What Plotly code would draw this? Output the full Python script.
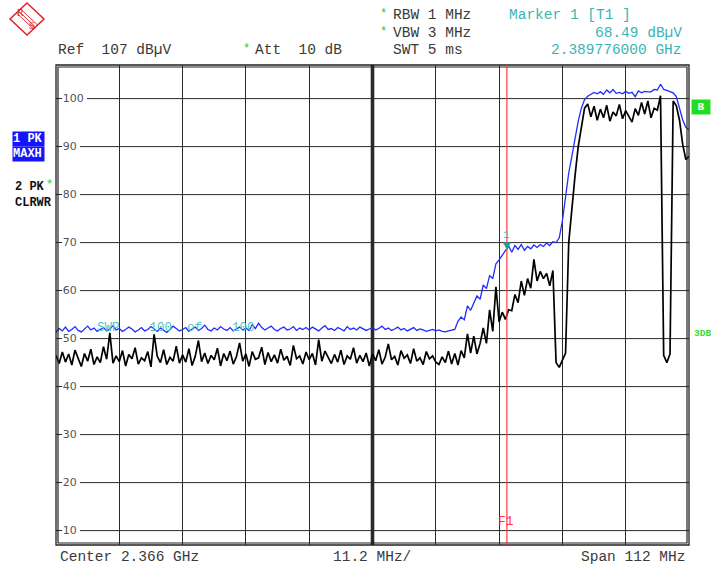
import plotly.graph_objects as go

# sweep settings
center_mhz = 2366.0
span_mhz = 112.0
n_points = 201
freqs = [center_mhz - span_mhz / 2 + span_mhz * i / (n_points - 1) for i in range(n_points)]
freq_divs = [center_mhz - span_mhz / 2 + span_mhz * k / 10 for k in range(11)]

ref_level = 107
level_ticks = [10, 20, 30, 40, 50, 60, 70, 80, 90, 100]

marker_freq = 2389.776
marker_level = 68.49

# trace 1: PK / MAXH (blue)
maxh_dbuv = [
    51.3, 52.1, 51.6, 52.4, 51.5, 51.9, 52.5, 51.7, 51.4, 52.0,
    52.6, 51.8, 52.2, 51.5, 51.9, 52.3, 51.6, 52.0, 52.7, 51.8,
    52.1, 51.5, 51.9, 52.4, 52.0, 51.4, 51.8, 52.3, 51.6, 51.9,
    52.5, 52.0, 51.5, 52.2, 51.7, 51.3, 51.9, 52.6, 52.1, 51.6,
    51.9, 52.3, 51.5, 52.0, 52.4, 51.7, 52.1, 52.8, 51.9, 51.6,
    52.2, 51.8, 52.5, 52.0, 51.7, 52.3, 51.6, 52.0, 52.4, 51.8,
    52.2, 51.7, 52.9, 52.1, 53.2, 52.3, 51.8, 52.2, 52.6, 51.9,
    51.6, 52.1, 52.4, 51.8, 52.0, 52.5, 51.7, 52.2, 51.9, 52.3,
    51.8, 52.4, 52.0, 51.6, 52.2, 52.7, 51.9, 52.1, 51.7, 52.3,
    52.0, 51.6, 52.5, 51.9, 52.2, 51.8, 52.4, 52.1, 51.7, 52.0,
    52.3, 51.8, 52.1, 52.6, 51.9, 52.2, 51.7, 52.0, 52.4, 51.8,
    52.1, 51.6, 51.9, 52.3, 51.7, 52.0, 51.8, 51.5, 51.7, 51.9,
    51.6, 51.8, 51.5, 51.4, 51.6, 51.8, 51.9, 53.6, 54.5, 53.9,
    56.8, 55.9, 57.5, 58.9, 58.2, 61.2, 60.4, 63.1, 62.5, 65.6,
    66.4, 67.4, 68.5, 69.3, 68.0, 69.4, 68.6, 69.6, 68.4, 69.2,
    68.7, 69.5, 69.0, 69.6, 69.2, 69.9, 69.4, 70.2, 70.0, 71.0,
    74.5, 79.5, 84.5, 88.0, 91.8, 95.3, 98.0, 99.8, 100.5, 100.9,
    101.3, 101.0, 101.4, 100.9, 101.8, 101.2, 101.9, 101.1, 101.3, 101.0,
    101.5, 101.1, 101.3, 100.4, 101.6, 101.2, 101.5, 101.4, 101.4, 101.9,
    101.8, 103.0, 101.9, 101.7, 101.5, 101.2, 100.4, 98.2, 95.6, 94.0,
    93.5,
]

# trace 2: PK / CLRWR (black)
clrwr_dbuv = [
    46.5, 44.8, 47.2, 45.1, 46.8, 44.5, 47.6, 45.9, 44.2, 46.9,
    45.3, 47.8, 44.6, 46.2, 45.0, 48.3, 45.7, 51.2, 44.9, 46.4,
    45.2, 47.5, 44.3, 46.7, 45.8, 48.1, 44.7, 46.0, 45.4, 47.3,
    44.1, 50.9, 46.3, 45.0, 47.7, 44.6, 46.1, 45.3, 48.4, 44.9,
    46.6, 45.1, 47.9, 44.4, 46.3, 49.6, 45.2, 47.0, 44.8, 46.5,
    45.6, 48.0, 44.3, 46.9, 45.4, 47.4, 44.7, 46.2, 49.1, 45.3,
    46.8, 44.2, 47.3, 45.7, 46.0, 48.2, 44.6, 47.1, 45.2, 46.6,
    44.9, 47.8, 45.5, 46.3, 44.4, 48.6, 45.8, 46.4, 44.7, 47.2,
    45.6, 46.9, 44.5, 49.8, 45.3, 47.4, 46.2, 44.8, 46.7, 45.1,
    47.6, 44.6, 46.4, 45.7, 48.1, 44.9, 46.5, 45.2, 47.0, 44.3,
    46.8, 45.4, 47.7, 44.7, 46.1, 48.9, 45.6, 46.3, 44.5, 47.5,
    45.9, 46.6, 44.8, 47.9, 45.3, 46.0, 44.6, 47.3, 45.8, 46.4,
    45.1, 44.6, 46.2, 45.0, 47.4, 44.7, 46.9, 44.5, 47.5, 46.0,
    51.0, 47.0, 50.5, 46.8, 49.0, 52.2, 49.0, 56.0, 51.5, 60.8,
    53.5, 55.5, 54.0, 56.0, 55.8, 59.2, 57.5, 62.0, 59.0, 62.5,
    60.5, 66.5, 62.0, 64.0, 62.5, 63.6, 61.0, 64.2, 45.0, 44.0,
    45.5, 47.0, 70.0, 77.5, 84.0, 90.0, 94.0, 98.0, 98.9, 96.2,
    98.4, 95.5, 97.8, 96.0, 98.6, 95.3, 97.2, 96.4, 98.8, 95.8,
    97.5, 96.2, 95.1, 97.9, 96.5, 99.2, 96.8, 99.5, 96.0, 98.0,
    97.6, 100.6, 46.5, 45.0, 46.8, 99.5, 98.5, 95.5, 90.5, 87.3,
    88.0,
]

W, H = 633, 480
L, T = 56, 65


def px(x):
    return (x - L) / W


def py(y):
    return (T + H - y) / H


mono = "Liberation Mono"
grey = "#3a3a3a"
teal = "#3ab5b5"
green = "#22cc22"

fig = go.Figure()
fig.add_trace(go.Scatter(x=freqs, y=maxh_dbuv, mode="lines",
                         line=dict(color="#1f2cff", width=1.3), hoverinfo="skip"))
fig.add_trace(go.Scatter(x=freqs, y=clrwr_dbuv, mode="lines",
                         line=dict(color="#000000", width=1.7), hoverinfo="skip"))

shapes = []
# level grid lines, interrupted by their labels
for v in level_ticks:
    start = 63 + 7 * len(str(v)) + 3
    shapes.append(dict(type="line", xref="paper", yref="y", x0=px(start), x1=1, y0=v, y1=v,
                       line=dict(color="#2a2a2a", width=1), layer="between"))
# centre double line
shapes.append(dict(type="line", xref="x", yref="paper", x0=center_mhz, x1=center_mhz, y0=0, y1=1,
                   line=dict(color="#2a2a2a", width=3.6), layer="between"))
shapes.append(dict(type="line", xref="x", yref="paper", x0=center_mhz, x1=center_mhz, y0=0, y1=1,
                   line=dict(color="#d8d8d8", width=1), layer="between"))
# double frame
shapes.append(dict(type="rect", xref="paper", yref="paper", x0=0, x1=1, y0=0, y1=1,
                   line=dict(color="#222222", width=1.3)))
shapes.append(dict(type="rect", xref="paper", yref="paper", x0=2 / W, x1=1 - 2 / W, y0=2 / H, y1=1 - 2 / H,
                   line=dict(color="#222222", width=1.2)))
# F1 frequency line
shapes.append(dict(type="line", xref="x", yref="paper", x0=marker_freq, x1=marker_freq, y0=0, y1=1,
                   line=dict(color="#ff3b3b", width=1.2)))

# R&S logo
red = "#e0202a"
shapes.append(dict(type="path", xref="paper", yref="paper",
                   path="M {},{} L {},{} L {},{} L {},{} Z".format(px(27), py(3), px(44), py(19), px(27), py(35), px(10), py(19)),
                   line=dict(color=red, width=1.5)))
for d in (-2, 0, 2):
    shapes.append(dict(type="line", xref="paper", yref="paper",
                       x0=px(18.5 + d), y0=py(11 - d), x1=px(35.5 + d), y1=py(27 - d),
                       line=dict(color=red, width=0.9)))

ann = []


def text(x, y, s, color=grey, size=14.5, anchor="left", family=mono, **kw):
    ann.append(dict(xref="paper", yref="paper", x=px(x), y=py(y), text=s, showarrow=False,
                    xanchor=anchor, yanchor="middle", font=dict(family=family, size=size, color=color), **kw))


text(20, 13, "R", color=red, size=10, anchor="center", family="Liberation Serif")
text(32, 25, "S", color=red, size=10, anchor="center", family="Liberation Serif")

text(56, 50, "Ref  107 dBµV")
text(246, 49, "*", color=green, size=12, anchor="center")
text(253, 50, "Att  10 dB")
text(383, 14, "*", color=green, size=12, anchor="center")
text(391, 15, "RBW 1 MHz")
text(383, 32, "*", color=green, size=12, anchor="center")
text(391, 33, "VBW 3 MHz")
text(391, 50, "SWT 5 ms")
text(507, 15, "Marker 1 [T1 ]", color=teal)
text(684, 33, "68.49 dBµV", color=teal, anchor="right")
text(684, 50, "2.389776000 GHz", color=teal, anchor="right")

text(58, 557, "Center 2.366 GHz")
text(372, 557, "11.2 MHz/", anchor="center")
text(687, 557, "Span 112 MHz", anchor="right")

text(95, 328, "SWP    100  of    100", color="#4cc4c4", size=12.5)

# trace labels on the left
text(12, 139, "<b>1 PK</b>", color="white", size=12, bgcolor="#1414ff", width=31, height=14,
     align="left", borderpad=0)
text(12, 154.5, "<b>MAXH</b>", color="white", size=12, bgcolor="#1414ff", width=31, height=14,
     align="left", borderpad=0)
text(13, 187, "<b>2 PK</b>", color="#111111", size=12)
text(49, 185, "*", color=green, size=12, anchor="center")
text(13, 203, "<b>CLRWR</b>", color="#111111", size=12)

# right side labels
text(701, 107.5, "<b>B</b>", color="white", size=11, anchor="center", bgcolor="#22dd22",
     width=18, height=14, borderpad=0)
text(692, 333, "<b>3DB</b>", color="#33dd33", size=9.5)

text(506, 521, "F1", color="#ff3b3b", size=13, anchor="center")

# marker 1 on trace 1
ann.append(dict(xref="x", yref="y", x=marker_freq, y=marker_level, text="▼", showarrow=False,
                xanchor="center", yanchor="bottom", yshift=-3,
                font=dict(family="DejaVu Sans", size=10, color="#1fa0a0")))
ann.append(dict(xref="x", yref="y", x=marker_freq, y=marker_level, text="1", showarrow=False,
                xanchor="center", yanchor="middle", yshift=15,
                font=dict(family=mono, size=11, color=teal)))

fig.update_layout(
    width=711, height=566,
    margin=dict(l=L, r=711 - L - W, t=T, b=566 - T - H),
    paper_bgcolor="white", plot_bgcolor="white",
    showlegend=False,
    xaxis=dict(range=[freqs[0], freqs[-1]], tickvals=freq_divs, showticklabels=False,
               showgrid=True, gridcolor="#2a2a2a", gridwidth=1, zeroline=False, ticks="",
               fixedrange=True),
    yaxis=dict(range=[ref_level - 100, ref_level], tickvals=level_ticks, ticks="inside", ticklen=6,
               tickcolor="#2a2a2a", ticklabelposition="inside", showgrid=False, zeroline=False,
               tickfont=dict(family="DejaVu Sans", size=11, color="#555555"), fixedrange=True),
    shapes=shapes,
    annotations=ann,
)

fig.write_html("out.html", config={"displayModeBar": False},
               post_script="document.body.style.margin='0';")
